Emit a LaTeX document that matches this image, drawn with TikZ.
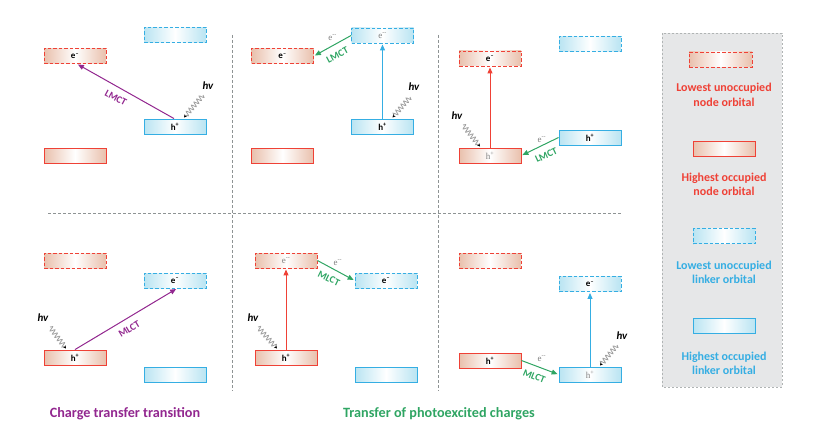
\documentclass[tikz,border=0pt]{standalone}
\usepackage{fontspec}
\setmainfont{Carlito}
\newfontfamily\greyserif{Liberation Serif}
\usepackage{tikz}
\usetikzlibrary{arrows.meta, positioning, calc, decorations.pathmorphing}
\definecolor{orbred}{HTML}{EF4136}
\definecolor{orbpeach}{HTML}{E9C0AC}
\definecolor{orbblue}{HTML}{35AEE3}
\definecolor{orbcyan}{HTML}{B9E4F2}
\definecolor{ctpurple}{HTML}{92278F}
\definecolor{ctgreen}{HTML}{2FA563}
\definecolor{wavegray}{HTML}{A0A0A0}
\definecolor{legendfill}{HTML}{E6E7E8}
\definecolor{dashgray}{HTML}{8E9394}
\tikzset{
  orbital/.style={minimum width=62pt, minimum height=15pt, inner sep=0pt,
    line width=0.9pt, font=\bfseries\fontsize{9}{9}\selectfont},
  nodelumo/.style={orbital, draw=orbred, dash pattern=on 3.5pt off 2pt,
    left color=orbpeach, right color=orbpeach, middle color=white},
  nodehomo/.style={orbital, draw=orbred,
    left color=orbpeach, right color=orbpeach, middle color=white},
  linklumo/.style={orbital, draw=orbblue, dash pattern=on 3.5pt off 2pt,
    left color=orbcyan, right color=orbcyan, middle color=white},
  linkhomo/.style={orbital, draw=orbblue,
    left color=orbcyan, right color=orbcyan, middle color=white},
  faded/.style={font=\greyserif\fontsize{9}{9}\selectfont, text=gray},
  photon/.style={decorate, decoration={snake, amplitude=2.4pt,
    segment length=4pt, post length=2pt}, draw=wavegray, line width=0.8pt,
    -{Stealth[length=3pt, width=3pt, black]}},
  hvlabel/.style={font=\bfseries\itshape\fontsize{11}{11}\selectfont},
  ctarrow/.style={line width=1pt, shorten >=1pt, -{Triangle[length=6pt, width=5pt]}},
  ctlabel/.style={anchor=north, inner sep=2pt, outer sep=5pt,
    font=\bfseries\fontsize{10}{10}\selectfont},
  elabel/.style={faded, anchor=south, inner sep=1pt},
  legendtext/.style={align=center, font=\bfseries\fontsize{12}{14.5}\selectfont},
  titletext/.style={font=\bfseries\fontsize{14.2}{16}\selectfont},
  divider/.style={dashgray, line width=1pt, dash pattern=on 3pt off 2pt}
}
\begin{document}
\begin{tikzpicture}[x=1pt, y=-1pt]
  \useasboundingbox (0,0) rectangle (814,428);
  \draw[divider] (232,35) -- (232,391);
  \draw[divider] (438,35) -- (438,391);
  \draw[divider] (48,213) -- (622,213);

  % charge transfer, node <- linker
  \node[nodelumo] (aNL) at (75,56) {e\textsuperscript{--}};
  \node[linklumo] (aKL) at (175,35) {};
  \node[linkhomo] (aKH) at (175,126.5) {h\textsuperscript{+}};
  \node[nodehomo] (aNH) at (75,156) {};
  \coordinate (aW) at (203,95);
  \node[hvlabel] (aHV) at (208,86) {hv};
  \draw[photon] (aW) -- ([xshift=9pt, yshift=1pt]aKH.north);
  \draw[ctarrow, ctpurple] ([xshift=-1pt]aKH.north)
    -- node[ctlabel, pos=0.55, rotate=-28] {LMCT} ([xshift=2pt]aNL.south);

  \node[nodelumo] (bNL) at (282.5,56) {e\textsuperscript{--}};
  \node[linklumo, faded] (bKL) at (382.5,35.5) {e\textsuperscript{--}};
  \node[linkhomo] (bKH) at (382.5,126.5) {h\textsuperscript{+}};
  \node[nodehomo] (bNH) at (282.5,156) {};
  \coordinate (bW) at (410,97);
  \node[hvlabel] (bHV) at (414,87) {hv};
  \draw[photon] (bW) -- ([xshift=10pt, yshift=1pt]bKH.north);
  \draw[ctarrow, orbblue] (bKH.north) -- (bKL.south);
  \draw[ctarrow, ctgreen] (bKL.west)
    -- node[elabel, pos=0.5, yshift=4pt] {e\textsuperscript{--}}
       node[ctlabel, pos=0.5, rotate=28] {LMCT} (bNL.east);

  \node[nodelumo] (cNL) at (490,58.5) {e\textsuperscript{--}};
  \node[linklumo] (cKL) at (590,44) {};
  \node[linkhomo] (cKH) at (590,137.5) {h\textsuperscript{+}};
  \node[nodehomo, faded] (cNH) at (490,155.5) {h\textsuperscript{+}};
  \coordinate (cW) at (463,125);
  \node[hvlabel] (cHV) at (457,116) {hv};
  \draw[photon] (cW) -- ([xshift=-10pt, yshift=1pt]cNH.north);
  \draw[ctarrow, orbred] (cNH.north) -- (cNL.south);
  \draw[ctarrow, ctgreen] (cKH.west)
    -- node[elabel, pos=0.45, yshift=2pt] {e\textsuperscript{--}}
       node[ctlabel, pos=0.45, rotate=25] {LMCT} (cNH.east);

  % charge transfer, node -> linker
  \node[nodelumo] (dNL) at (75,260.5) {};
  \node[linklumo] (dKL) at (175,280.5) {e\textsuperscript{--}};
  \node[nodehomo] (dNH) at (75,357.5) {h\textsuperscript{+}};
  \node[linkhomo] (dKH) at (175,374.5) {};
  \coordinate (dW) at (50,327);
  \node[hvlabel] (dHV) at (43,318) {hv};
  \draw[photon] (dW) -- ([xshift=-9pt, yshift=1pt]dNH.north);
  \draw[ctarrow, ctpurple] (dNH.north)
    -- node[ctlabel, pos=0.48, rotate=31] {MLCT} ([xshift=2pt]dKL.south);

  \node[nodelumo, faded] (eNL) at (286,260.5) {e\textsuperscript{--}};
  \node[linklumo] (eKL) at (386,280.5) {e\textsuperscript{--}};
  \node[nodehomo] (eNH) at (286,357.5) {h\textsuperscript{+}};
  \node[linkhomo] (eKH) at (386,374.5) {};
  \coordinate (eW) at (258,327);
  \node[hvlabel] (eHV) at (253,318) {hv};
  \draw[photon] (eW) -- ([xshift=-9pt, yshift=1pt]eNH.north);
  \draw[ctarrow, orbred] (eNH.north) -- (eNL.south);
  \draw[ctarrow, ctgreen] (eNL.east)
    -- node[elabel, pos=0.55, yshift=4.5pt] {e\textsuperscript{--}}
       node[ctlabel, pos=0.43, rotate=-26] {MLCT} (eKL.west);

  \node[nodelumo] (fNL) at (490,260.5) {};
  \node[linklumo] (fKL) at (590,284) {e\textsuperscript{--}};
  \node[nodehomo] (fNH) at (490,360.5) {h\textsuperscript{+}};
  \node[linkhomo, faded] (fKH) at (590,374.5) {h\textsuperscript{+}};
  \coordinate (fW) at (617,345);
  \node[hvlabel] (fHV) at (622,336) {hv};
  \draw[photon] (fW) -- ([xshift=10pt, yshift=1pt]fKH.north);
  \draw[ctarrow, orbblue] (fKH.north) -- (fKL.south);
  \draw[ctarrow, ctgreen] (fNH.east)
    -- node[elabel, pos=0.55, yshift=5pt] {e\textsuperscript{--}}
       node[ctlabel, pos=0.45, rotate=-22] {MLCT} (fKH.west);

  % legend
  \draw[dashgray!70, fill=legendfill, line width=0.8pt, dash pattern=on 2pt off 2pt]
    (662,33) rectangle (782,387);
  \node[nodelumo, minimum width=63pt] (lgNL) at (720.5,59.5) {};
  \node[legendtext, orbred] (lgNLtext) at (724,95) {Lowest unoccupied\\node orbital};
  \node[nodehomo] (lgNH) at (724,148.5) {};
  \node[legendtext, orbred] (lgNHtext) at (724,184.5) {Highest occupied\\node orbital};
  \node[linklumo] (lgKL) at (724,236) {};
  \node[legendtext, orbblue] (lgKLtext) at (724,272.5) {Lowest unoccupied\\linker orbital};
  \node[linkhomo] (lgKH) at (724,325.5) {};
  \node[legendtext, orbblue] (lgKHtext) at (724,363.5) {Highest occupied\\linker orbital};

  \node[titletext, ctpurple] (ctTitle) at (125,414) {Charge transfer transition};
  \node[titletext, ctgreen] (pcTitle) at (439,414) {Transfer of photoexcited charges};
\end{tikzpicture}
\end{document}
